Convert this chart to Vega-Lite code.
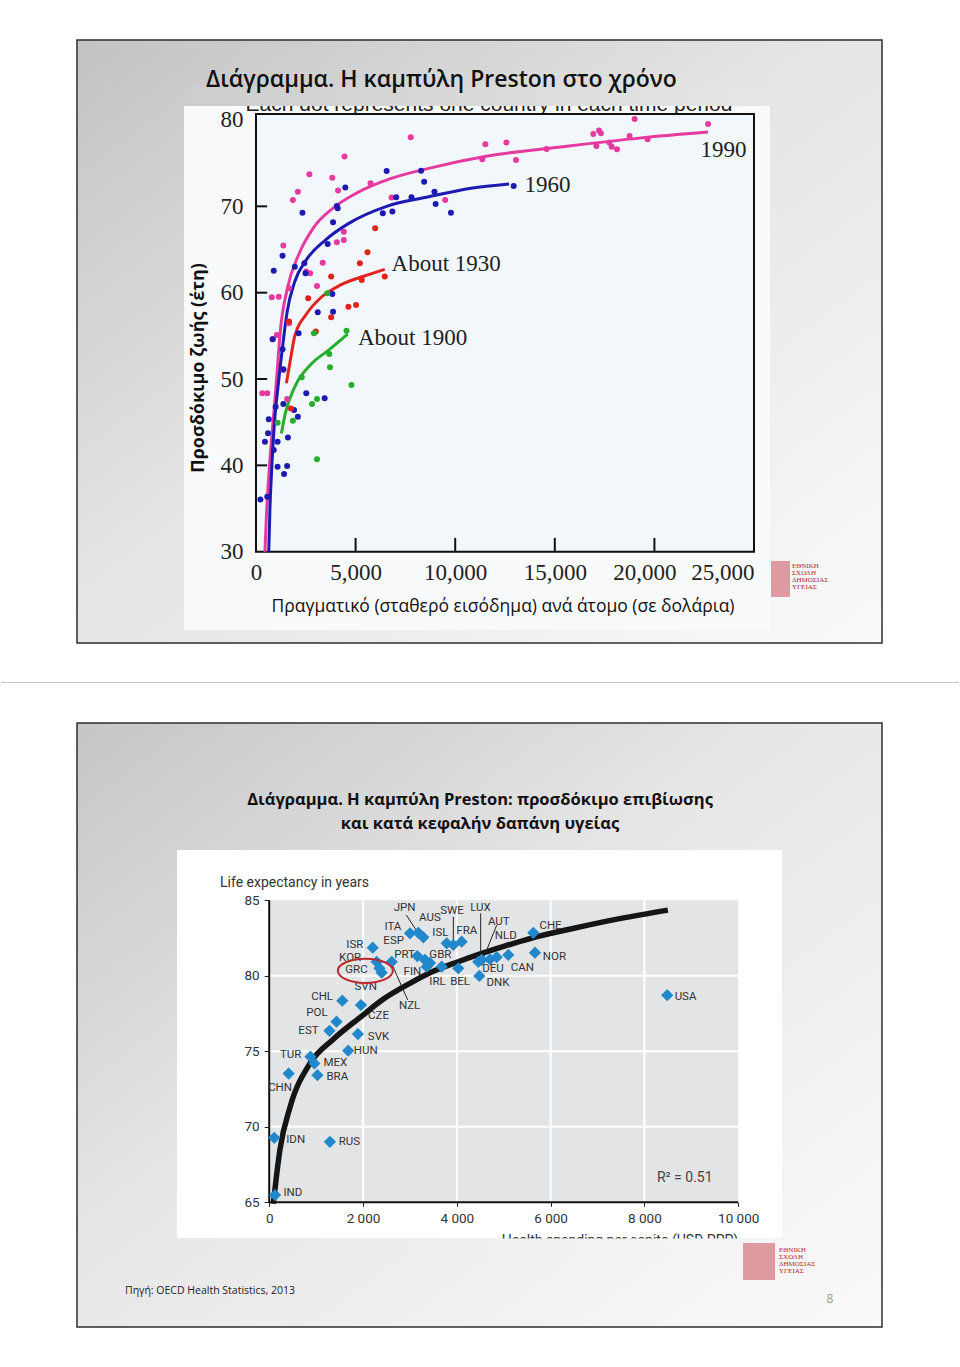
{
"$schema": "https://vega.github.io/schema/vega-lite/v6.json",
"padding": 0,
"spacing": 0,
"bounds": "flush",
"background": "white",
"config": {"view": {"stroke": null}, "concat": {"spacing": 0}},
"datasets": {
"slide1": [{"x": -8986, "x2": 31426, "y": 19.425, "y2": 89.266}],
"sep1": [{"x": -12801, "x2": 35291, "y": 14.85, "y2": 14.85}],
"pic1": [{"x": -3614, "x2": 25803, "y": 20.93, "y2": 81.62}],
"cap1": [{"t": "Each dot represents one country in each time period", "x": 11697, "y": 81.04}],
"cover1": [{"x": -3614, "x2": 25803, "y": 81.62, "y2": 83.9}],
"plot1": [{"x": 0, "x2": 25000, "y": 30, "y2": 80.7}],
"ticks1": [
{"x": 0, "x2": 560, "y": 40, "y2": 40},
{"x": 0, "x2": 560, "y": 50, "y2": 50},
{"x": 0, "x2": 560, "y": 60, "y2": 60},
{"x": 0, "x2": 560, "y": 70, "y2": 70},
{"x": 5000, "x2": 5000, "y": 30, "y2": 31.6},
{"x": 10000, "x2": 10000, "y": 30, "y2": 31.6},
{"x": 15000, "x2": 15000, "y": 30, "y2": 31.6},
{"x": 20000, "x2": 20000, "y": 30, "y2": 31.6}
],
"curves1": [
{"s": "1990", "x": 450, "y": 30}, {"s": "1990", "x": 520, "y": 34}, {"s": "1990", "x": 620, "y": 38}, {"s": "1990", "x": 760, "y": 42.5}, {"s": "1990", "x": 900, "y": 46.2}, {"s": "1990", "x": 1050, "y": 50.5}, {"s": "1990", "x": 1218, "y": 55.5}, {"s": "1990", "x": 1564, "y": 60.4}, {"s": "1990", "x": 2140, "y": 64.4}, {"s": "1990", "x": 2909, "y": 67.6}, {"s": "1990", "x": 3869, "y": 69.8}, {"s": "1990", "x": 5022, "y": 71.5}, {"s": "1990", "x": 6750, "y": 73.2}, {"s": "1990", "x": 8672, "y": 74.4}, {"s": "1990", "x": 11553, "y": 75.8}, {"s": "1990", "x": 15395, "y": 76.9}, {"s": "1990", "x": 19237, "y": 77.9}, {"s": "1990", "x": 22695, "y": 78.6},
{"s": "1960", "x": 641, "y": 30}, {"s": "1960", "x": 700, "y": 35}, {"s": "1960", "x": 795, "y": 39.9}, {"s": "1960", "x": 949, "y": 45.6}, {"s": "1960", "x": 1100, "y": 49}, {"s": "1960", "x": 1218, "y": 51.5}, {"s": "1960", "x": 1400, "y": 55}, {"s": "1960", "x": 1564, "y": 57.8}, {"s": "1960", "x": 1948, "y": 61.3}, {"s": "1960", "x": 2524, "y": 63.8}, {"s": "1960", "x": 3485, "y": 66.1}, {"s": "1960", "x": 4637, "y": 68.0}, {"s": "1960", "x": 6558, "y": 70.0}, {"s": "1960", "x": 8672, "y": 71.1}, {"s": "1960", "x": 10785, "y": 72.1}, {"s": "1960", "x": 12706, "y": 72.6},
{"s": "1930", "x": 1526, "y": 49.5}, {"s": "1930", "x": 1756, "y": 52.6}, {"s": "1930", "x": 1948, "y": 55.0}, {"s": "1930", "x": 2524, "y": 57.5}, {"s": "1930", "x": 3292, "y": 59.5}, {"s": "1930", "x": 4253, "y": 60.9}, {"s": "1930", "x": 5406, "y": 61.9}, {"s": "1930", "x": 6462, "y": 62.7},
{"s": "1900", "x": 1276, "y": 43.7}, {"s": "1900", "x": 1468, "y": 46.0}, {"s": "1900", "x": 1948, "y": 49.1}, {"s": "1900", "x": 2716, "y": 51.6}, {"s": "1900", "x": 3677, "y": 53.4}, {"s": "1900", "x": 4600, "y": 55.2}
],
"pts1": [
{"s": "1990", "x": 22695, "y": 79.54}, {"s": "1990", "x": 19006, "y": 80.12}, {"s": "1990", "x": 16932, "y": 78.38}, {"s": "1990", "x": 17220, "y": 78.77}, {"s": "1990", "x": 17316, "y": 78.46}, {"s": "1990", "x": 17086, "y": 76.99}, {"s": "1990", "x": 17738, "y": 77.38}, {"s": "1990", "x": 17853, "y": 76.91}, {"s": "1990", "x": 18122, "y": 76.61}, {"s": "1990", "x": 18756, "y": 78.15}, {"s": "1990", "x": 19659, "y": 77.76}, {"s": "1990", "x": 14588, "y": 76.64}, {"s": "1990", "x": 13051, "y": 75.37}, {"s": "1990", "x": 12571, "y": 77.38}, {"s": "1990", "x": 11515, "y": 77.19}, {"s": "1990", "x": 11361, "y": 75.45}, {"s": "1990", "x": 7768, "y": 77.99}, {"s": "1990", "x": 9498, "y": 70.74}, {"s": "1990", "x": 6808, "y": 71.01}, {"s": "1990", "x": 5752, "y": 72.67}, {"s": "1990", "x": 4445, "y": 75.76}, {"s": "1990", "x": 4119, "y": 71.82}, {"s": "1990", "x": 4407, "y": 67.07}, {"s": "1990", "x": 4407, "y": 66.1}, {"s": "1990", "x": 3831, "y": 73.32}, {"s": "1990", "x": 3350, "y": 63.48}, {"s": "1990", "x": 2678, "y": 73.71}, {"s": "1990", "x": 2101, "y": 71.7}, {"s": "1990", "x": 1851, "y": 70.74}, {"s": "1990", "x": 2524, "y": 62.44}, {"s": "1990", "x": 2716, "y": 62.24}, {"s": "1990", "x": 3062, "y": 60.78}, {"s": "1990", "x": 1372, "y": 65.45}, {"s": "1990", "x": 1660, "y": 60.51}, {"s": "1990", "x": 1141, "y": 59.54}, {"s": "1990", "x": 795, "y": 59.46}, {"s": "1990", "x": 853, "y": 54.64}, {"s": "1990", "x": 1045, "y": 55.1}, {"s": "1990", "x": 1660, "y": 56.45}, {"s": "1990", "x": 4061, "y": 65.83}, {"s": "1990", "x": 315, "y": 48.34}, {"s": "1990", "x": 565, "y": 48.34}, {"s": "1990", "x": 1564, "y": 47.68}, {"s": "1990", "x": 1372, "y": 51.04},
{"s": "1960", "x": 12936, "y": 72.36}, {"s": "1960", "x": 8287, "y": 74.13}, {"s": "1960", "x": 8441, "y": 72.86}, {"s": "1960", "x": 6558, "y": 74.1}, {"s": "1960", "x": 8960, "y": 71.7}, {"s": "1960", "x": 9018, "y": 70.27}, {"s": "1960", "x": 9786, "y": 69.27}, {"s": "1960", "x": 7807, "y": 71.05}, {"s": "1960", "x": 7038, "y": 71.05}, {"s": "1960", "x": 6366, "y": 69.19}, {"s": "1960", "x": 6846, "y": 69.39}, {"s": "1960", "x": 4484, "y": 72.17}, {"s": "1960", "x": 4061, "y": 70.04}, {"s": "1960", "x": 4100, "y": 69.77}, {"s": "1960", "x": 3869, "y": 68.15}, {"s": "1960", "x": 3600, "y": 65.64}, {"s": "1960", "x": 2332, "y": 69.27}, {"s": "1960", "x": 2428, "y": 63.4}, {"s": "1960", "x": 1948, "y": 63.01}, {"s": "1960", "x": 1333, "y": 64.29}, {"s": "1960", "x": 891, "y": 62.55}, {"s": "1960", "x": 2486, "y": 62.24}, {"s": "1960", "x": 3831, "y": 59.85}, {"s": "1960", "x": 3100, "y": 57.73}, {"s": "1960", "x": 3869, "y": 57.8}, {"s": "1960", "x": 2140, "y": 55.3}, {"s": "1960", "x": 834, "y": 54.6}, {"s": "1960", "x": 1333, "y": 53.44}, {"s": "1960", "x": 1372, "y": 51.12}, {"s": "1960", "x": 987, "y": 46.79}, {"s": "1960", "x": 1372, "y": 47.1}, {"s": "1960", "x": 641, "y": 45.33}, {"s": "1960", "x": 603, "y": 43.71}, {"s": "1960", "x": 449, "y": 42.74}, {"s": "1960", "x": 1083, "y": 42.74}, {"s": "1960", "x": 891, "y": 41.77}, {"s": "1960", "x": 1602, "y": 43.24}, {"s": "1960", "x": 1083, "y": 39.85}, {"s": "1960", "x": 1564, "y": 39.92}, {"s": "1960", "x": 1410, "y": 39.0}, {"s": "1960", "x": 219, "y": 36.06}, {"s": "1960", "x": 565, "y": 36.37}, {"s": "1960", "x": 1910, "y": 46.41}, {"s": "1960", "x": 2101, "y": 45.64}, {"s": "1960", "x": 2524, "y": 48.34}, {"s": "1960", "x": 3446, "y": 47.76},
{"s": "1930", "x": 5983, "y": 67.46}, {"s": "1930", "x": 5598, "y": 64.68}, {"s": "1930", "x": 5214, "y": 63.4}, {"s": "1930", "x": 5310, "y": 61.47}, {"s": "1930", "x": 6462, "y": 61.86}, {"s": "1930", "x": 3773, "y": 61.86}, {"s": "1930", "x": 4638, "y": 58.38}, {"s": "1930", "x": 5022, "y": 58.57}, {"s": "1930", "x": 2620, "y": 59.35}, {"s": "1930", "x": 3773, "y": 57.15}, {"s": "1930", "x": 3004, "y": 55.49}, {"s": "1930", "x": 1660, "y": 56.65}, {"s": "1930", "x": 1756, "y": 46.6},
{"s": "1900", "x": 3581, "y": 59.93}, {"s": "1900", "x": 2909, "y": 55.3}, {"s": "1900", "x": 4542, "y": 55.6}, {"s": "1900", "x": 3677, "y": 52.9}, {"s": "1900", "x": 3715, "y": 51.35}, {"s": "1900", "x": 4792, "y": 49.3}, {"s": "1900", "x": 2294, "y": 50.2}, {"s": "1900", "x": 1083, "y": 44.94}, {"s": "1900", "x": 1852, "y": 45.17}, {"s": "1900", "x": 2813, "y": 47.1}, {"s": "1900", "x": 3062, "y": 47.68}, {"s": "1900", "x": 3062, "y": 40.7}
],
"serlab1": [
{"t": "1990", "x": 22314, "y": 76.5},
{"t": "1960", "x": 13474, "y": 72.5},
{"t": "About 1930", "x": 6807, "y": 63.3},
{"t": "About 1900", "x": 5120, "y": 54.8}
],
"title1": [{"t": "Διάγραμμα. Η καμπύλη Preston στο χρόνο", "x": -2510, "y": 84.63}],
"ytitle1": [{"t": "Προσδόκιμο ζωής (έτη)", "x": -2861, "y": 51.28}],
"xtitle1": [{"t": "Πραγματικό (σταθερό εισόδημα) ανά άτομο (σε δολάρια)", "x": 12400, "y": 23.6}],
"logo1img": [{"x": 25853, "x2": 26807, "y": 24.75, "y2": 28.92}],
"logo1txt": [{"t": "ΕΘΝΙΚΗ", "x": 26908, "y": 28.34}, {"t": "ΣΧΟΛΗ", "x": 26908, "y": 27.53}, {"t": "ΔΗΜΟΣΙΑΣ", "x": 26908, "y": 26.72}, {"t": "ΥΓΕΙΑΣ", "x": 26908, "y": 25.91}],
"slide2": [{"x": -4098, "x2": 13066, "y": 56.742, "y2": 96.742}],
"pic2": [{"x": -1966, "x2": 10934, "y": 62.636, "y2": 88.33}],
"plot2": [{"x": 0, "x2": 10000, "y": 65, "y2": 85}],
"grid2": [
{"x": 2000, "x2": 2000, "y": 65, "y2": 85}, {"x": 4000, "x2": 4000, "y": 65, "y2": 85}, {"x": 6000, "x2": 6000, "y": 65, "y2": 85}, {"x": 8000, "x2": 8000, "y": 65, "y2": 85},
{"x": 0, "x2": 10000, "y": 70, "y2": 70}, {"x": 0, "x2": 10000, "y": 75, "y2": 75}, {"x": 0, "x2": 10000, "y": 80, "y2": 80}
],
"axes2": [{"x": 0, "x2": 0, "y": 65, "y2": 85}, {"x": 0, "x2": 10000, "y": 65, "y2": 65}],
"curve2": [
{"x": 88, "y": 64.9}, {"x": 150, "y": 66.6}, {"x": 230, "y": 68.5}, {"x": 444, "y": 71.3}, {"x": 870, "y": 74.2}, {"x": 1367, "y": 75.8}, {"x": 2000, "y": 77.4}, {"x": 2362, "y": 78.3}, {"x": 3000, "y": 79.5}, {"x": 3429, "y": 80.2}, {"x": 4000, "y": 80.9}, {"x": 4500, "y": 81.45}, {"x": 5000, "y": 81.95}, {"x": 5600, "y": 82.5}, {"x": 6500, "y": 83.15}, {"x": 7500, "y": 83.8}, {"x": 8500, "y": 84.35}
],
"lead2": [
{"x": 2922, "x2": 3179, "y": 84.03, "y2": 82.81},
{"x": 3926, "x2": 3926, "y": 83.91, "y2": 82.15},
{"x": 4509, "x2": 4509, "y": 84.14, "y2": 81.16},
{"x": 4851, "x2": 4580, "y": 83.36, "y2": 81.26},
{"x": 2612, "x2": 2953, "y": 80.8, "y2": 78.4}
],
"oecd": [
{"c": "IND", "x": 124, "y": 65.48}, {"c": "IDN", "x": 107, "y": 69.27}, {"c": "RUS", "x": 1294, "y": 69.01}, {"c": "CHN", "x": 414, "y": 73.53}, {"c": "TUR", "x": 879, "y": 74.64}, {"c": "MEX", "x": 962, "y": 74.2}, {"c": "BRA", "x": 1028, "y": 73.42}, {"c": "HUN", "x": 1684, "y": 75.04}, {"c": "EST", "x": 1285, "y": 76.36}, {"c": "POL", "x": 1435, "y": 76.96}, {"c": "SVK", "x": 1891, "y": 76.14}, {"c": "CHL", "x": 1559, "y": 78.35}, {"c": "CZE", "x": 1957, "y": 78.06}, {"c": "ISR", "x": 2207, "y": 81.86}, {"c": "KOR", "x": 2292, "y": 80.93}, {"c": "GRC", "x": 2399, "y": 80.21}, {"c": "SVN", "x": 2350, "y": 80.5}, {"c": "NZL", "x": 2612, "y": 80.93}, {"c": "ITA", "x": 3002, "y": 82.81}, {"c": "JPN", "x": 3179, "y": 82.85}, {"c": "AUS", "x": 3286, "y": 82.55}, {"c": "ESP", "x": 3158, "y": 81.31}, {"c": "PRT", "x": 3322, "y": 81.05}, {"c": "GBR", "x": 3428, "y": 80.85}, {"c": "FIN", "x": 3358, "y": 80.6}, {"c": "IRL", "x": 3678, "y": 80.6}, {"c": "BEL", "x": 4032, "y": 80.5}, {"c": "SWE", "x": 3785, "y": 82.15}, {"c": "ISL", "x": 3925, "y": 82.04}, {"c": "FRA", "x": 4104, "y": 82.26}, {"c": "DNK", "x": 4480, "y": 79.99}, {"c": "DEU", "x": 4458, "y": 80.93}, {"c": "LUX", "x": 4531, "y": 81.05}, {"c": "AUT", "x": 4708, "y": 81.09}, {"c": "NLD", "x": 4851, "y": 81.23}, {"c": "CAN", "x": 5098, "y": 81.38}, {"c": "CHE", "x": 5631, "y": 82.85}, {"c": "NOR", "x": 5667, "y": 81.53}, {"c": "USA", "x": 8487, "y": 78.72}
],
"oecdlab": [
{"t": "IND", "x": 506, "y": 65.59}, {"t": "IDN", "x": 564, "y": 69.12}, {"t": "RUS", "x": 1709, "y": 69.01}, {"t": "CHN", "x": 232, "y": 72.59}, {"t": "TUR", "x": 456, "y": 74.75}, {"t": "MEX", "x": 1410, "y": 74.2}, {"t": "BRA", "x": 1451, "y": 73.27}, {"t": "HUN", "x": 2057, "y": 75.04}, {"t": "EST", "x": 837, "y": 76.36}, {"t": "POL", "x": 1020, "y": 77.51}, {"t": "SVK", "x": 2331, "y": 75.96}, {"t": "CHL", "x": 1128, "y": 78.57}, {"t": "CZE", "x": 2331, "y": 77.36}, {"t": "ISR", "x": 1825, "y": 82.05}, {"t": "KOR", "x": 1725, "y": 81.15}, {"t": "GRC", "x": 1860, "y": 80.38}, {"t": "SVN", "x": 2057, "y": 79.28}, {"t": "NZL", "x": 2994, "y": 77.99}, {"t": "ITA", "x": 2638, "y": 83.25}, {"t": "JPN", "x": 2887, "y": 84.46}, {"t": "AUS", "x": 3426, "y": 83.8}, {"t": "ESP", "x": 2654, "y": 82.3}, {"t": "PRT", "x": 2887, "y": 81.4}, {"t": "GBR", "x": 3650, "y": 81.37}, {"t": "FIN", "x": 3053, "y": 80.27}, {"t": "IRL", "x": 3590, "y": 79.61}, {"t": "BEL", "x": 4070, "y": 79.61}, {"t": "SWE", "x": 3899, "y": 84.31}, {"t": "ISL", "x": 3650, "y": 82.85}, {"t": "FRA", "x": 4214, "y": 82.96}, {"t": "DNK", "x": 4878, "y": 79.52}, {"t": "DEU", "x": 4770, "y": 80.42}, {"t": "LUX", "x": 4505, "y": 84.51}, {"t": "AUT", "x": 4895, "y": 83.58}, {"t": "NLD", "x": 5044, "y": 82.63}, {"t": "CAN", "x": 5400, "y": 80.53}, {"t": "CHE", "x": 5998, "y": 83.29}, {"t": "NOR", "x": 6081, "y": 81.26}, {"t": "USA", "x": 8877, "y": 78.61}
],
"ell2": [{"x": 2050, "y": 80.33}],
"title2": [{"t": "Διάγραμμα. Η καμπύλη Preston: προσδόκιμο επιβίωσης", "x": 4495, "y": 91.64}, {"t": "και κατά κεφαλήν δαπάνη υγείας", "x": 4495, "y": 90.05}],
"ylab2": [{"t": "Life expectancy in years", "x": -1049, "y": 86.15}],
"r2": [{"t": "R² = 0.51", "x": 8860, "y": 66.58}],
"xlab2": [{"t": "Health spending per capita (USD PPP)", "x": 10000, "y": 62.45}],
"cover2": [{"x": 3000, "x2": 10200, "y": 61.7, "y2": 62.6}],
"foot2": [{"t": "Πηγή: OECD Health Statistics, 2013", "x": -3075, "y": 59.126}],
"page2": [{"t": "8", "x": 11957, "y": 58.6}],
"logo2img": [{"x": 10102, "x2": 10785, "y": 59.854, "y2": 62.305}],
"logo2txt": [{"t": "ΕΘΝΙΚΗ", "x": 10870, "y": 61.84}, {"t": "ΣΧΟΛΗ", "x": 10870, "y": 61.37}, {"t": "ΔΗΜΟΣΙΑΣ", "x": 10870, "y": 60.91}, {"t": "ΥΓΕΙΑΣ", "x": 10870, "y": 60.45}]
},
"vconcat": [
{
"width": 960,
"height": 683,
"encoding": {
"x": {"field": "x", "type": "quantitative", "scale": {"domain": [-12851.4, 35341.4], "nice": false, "zero": false},
"axis": {"orient": "bottom", "offset": -131.3, "zindex": 1, "values": [0, 5000, 10000, 15000, 20000, 25000], "format": ",d", "domain": false, "ticks": false, "grid": false, "labelPadding": 10, "labelFont": "Liberation Serif", "labelFontSize": 23, "labelColor": "#222", "title": null, "labelOverlap": false, "labelFlush": false,
"labelAlign": {"condition": {"test": "datum.value == 25000", "value": "right"}, "value": "center"},
"labelOffset": {"condition": {"test": "datum.value == 20000", "value": -10}, "value": 0}}},
"y": {"field": "y", "type": "quantitative", "scale": {"domain": [14.793, 93.898], "nice": false, "zero": false},
"axis": {"orient": "left", "offset": -256, "zindex": 1, "values": [30, 40, 50, 60, 70, 80], "domain": false, "ticks": false, "grid": false, "labelPadding": 13, "labelFont": "Liberation Serif", "labelFontSize": 23, "labelColor": "#222", "title": null, "labelOverlap": false, "labelFlush": false}}
},
"layer": [
{"data": {"name": "slide1"}, "mark": {"type": "rect", "fill": {"gradient": "linear", "x1": 0, "y1": 0, "x2": 1, "y2": 1, "stops": [{"offset": 0, "color": "#c3c3c3"}, {"offset": 0.45, "color": "#e4e4e4"}, {"offset": 1, "color": "#fafafa"}]}, "stroke": "#2e2e2e", "strokeWidth": 1.5}, "encoding": {"x2": {"field": "x2"}, "y2": {"field": "y2"}}},
{"data": {"name": "sep1"}, "mark": {"type": "rule", "color": "#c4c4c4", "strokeWidth": 1}, "encoding": {"x2": {"field": "x2"}, "y2": {"field": "y2"}}},
{"data": {"name": "pic1"}, "mark": {"type": "rect", "fill": "#f8fafb"}, "encoding": {"x2": {"field": "x2"}, "y2": {"field": "y2"}}},
{"data": {"name": "cap1"}, "mark": {"type": "text", "font": "Liberation Sans", "fontSize": 21, "color": "#222", "align": "center", "baseline": "alphabetic"}, "encoding": {"text": {"field": "t"}}},
{"data": {"name": "cover1"}, "mark": {"type": "rect", "fill": {"gradient": "linear", "x1": 0, "y1": 0, "x2": 1, "y2": 0, "stops": [{"offset": 0, "color": "#cdcdcd"}, {"offset": 1, "color": "#e6e6e6"}]}}, "encoding": {"x2": {"field": "x2"}, "y2": {"field": "y2"}}},
{"data": {"name": "plot1"}, "mark": {"type": "rect", "fill": "#f1f7fa", "stroke": "#111", "strokeWidth": 2}, "encoding": {"x2": {"field": "x2"}, "y2": {"field": "y2"}}},
{"data": {"name": "ticks1"}, "mark": {"type": "rule", "color": "#111", "strokeWidth": 2}, "encoding": {"x2": {"field": "x2"}, "y2": {"field": "y2"}}},
{"data": {"name": "curves1"}, "mark": {"type": "line", "strokeWidth": 3, "interpolate": "monotone"}, "encoding": {"color": {"field": "s", "type": "nominal", "scale": {"domain": ["1990", "1960", "1930", "1900"], "range": ["#e63aa0", "#1c1ab0", "#e3231b", "#25ad2c"]}, "legend": null}}},
{"data": {"name": "pts1"}, "mark": {"type": "circle", "size": 36, "opacity": 1}, "encoding": {"color": {"field": "s", "type": "nominal", "legend": null}}},
{"data": {"name": "serlab1"}, "mark": {"type": "text", "font": "Liberation Serif", "fontSize": 23, "color": "#222", "align": "left", "baseline": "middle"}, "encoding": {"text": {"field": "t"}}},
{"data": {"name": "title1"}, "mark": {"type": "text", "font": "Open Sans", "fontSize": 23, "fontWeight": 600, "color": "#111", "align": "left", "baseline": "middle"}, "encoding": {"text": {"field": "t"}}},
{"data": {"name": "ytitle1"}, "mark": {"type": "text", "font": "Open Sans", "fontSize": 18, "fontWeight": "bold", "color": "#111", "align": "center", "baseline": "middle", "angle": 270}, "encoding": {"text": {"field": "t"}}},
{"data": {"name": "xtitle1"}, "mark": {"type": "text", "font": "Open Sans", "fontSize": 17.5, "color": "#111", "align": "center", "baseline": "middle"}, "encoding": {"text": {"field": "t"}}},
{"data": {"name": "logo1img"}, "mark": {"type": "rect", "fill": "#d98a90", "opacity": 0.85}, "encoding": {"x2": {"field": "x2"}, "y2": {"field": "y2"}}},
{"data": {"name": "logo1txt"}, "mark": {"type": "text", "font": "Liberation Serif", "fontSize": 7, "color": "#b3262e", "align": "left", "baseline": "middle"}, "encoding": {"text": {"field": "t"}}}
]
},
{
"width": 960,
"height": 684,
"encoding": {
"x": {"field": "x", "type": "quantitative", "scale": {"domain": [-5739.9, 14729.2], "nice": false, "zero": false},
"axis": {"orient": "bottom", "offset": -164.7, "zindex": 1, "values": [0, 2000, 4000, 6000, 8000, 10000], "labelExpr": "replace(format(datum.value, ',d'), ',', ' ')", "domain": false, "ticks": true, "tickSize": 4, "tickColor": "#222", "grid": false, "labelPadding": 5, "labelFont": "Roboto", "labelFontSize": 13.5, "labelColor": "#333", "title": null, "labelOverlap": false, "labelFlush": false}},
"y": {"field": "y", "type": "quantitative", "scale": {"domain": [54.093, 99.391], "nice": false, "zero": false},
"axis": {"orient": "left", "offset": -269.2, "zindex": 1, "values": [65, 70, 75, 80, 85], "domain": false, "ticks": true, "tickSize": 5, "tickColor": "#222", "grid": false, "labelPadding": 5, "labelFont": "Roboto", "labelFontSize": 13.5, "labelColor": "#333", "title": null, "labelOverlap": false, "labelFlush": false}}
},
"layer": [
{"data": {"name": "slide2"}, "mark": {"type": "rect", "fill": {"gradient": "linear", "x1": 0, "y1": 0, "x2": 1, "y2": 1, "stops": [{"offset": 0, "color": "#c6c6c6"}, {"offset": 0.45, "color": "#e7e7e7"}, {"offset": 1, "color": "#fafafa"}]}, "stroke": "#2e2e2e", "strokeWidth": 1.5}, "encoding": {"x2": {"field": "x2"}, "y2": {"field": "y2"}}},
{"data": {"name": "pic2"}, "mark": {"type": "rect", "fill": "#ffffff"}, "encoding": {"x2": {"field": "x2"}, "y2": {"field": "y2"}}},
{"data": {"name": "plot2"}, "mark": {"type": "rect", "fill": "#e3e4e6"}, "encoding": {"x2": {"field": "x2"}, "y2": {"field": "y2"}}},
{"data": {"name": "grid2"}, "mark": {"type": "rule", "color": "#ffffff", "strokeWidth": 2}, "encoding": {"x2": {"field": "x2"}, "y2": {"field": "y2"}}},
{"data": {"name": "curve2"}, "mark": {"type": "line", "color": "#151515", "strokeWidth": 5.5, "interpolate": "monotone"}, "encoding": {}},
{"data": {"name": "axes2"}, "mark": {"type": "rule", "color": "#111", "strokeWidth": 2}, "encoding": {"x2": {"field": "x2"}, "y2": {"field": "y2"}}},
{"data": {"name": "lead2"}, "mark": {"type": "rule", "color": "#222", "strokeWidth": 1}, "encoding": {"x2": {"field": "x2"}, "y2": {"field": "y2"}}},
{"data": {"name": "oecd"}, "mark": {"type": "point", "shape": "diamond", "filled": true, "size": 150, "color": "#2188cc", "opacity": 1}, "encoding": {"tooltip": {"field": "c"}}},
{"data": {"name": "oecdlab"}, "mark": {"type": "text", "font": "Roboto", "fontSize": 11.5, "color": "#333", "align": "center", "baseline": "middle"}, "encoding": {"text": {"field": "t"}}},
{"data": {"name": "ell2"}, "mark": {"type": "point", "shape": "M-1,0 A1,0.44 0 1,1 1,0 A1,0.44 0 1,1 -1,0 Z", "size": 3025, "filled": false, "stroke": "#c0272d", "strokeWidth": 2, "opacity": 1}, "encoding": {}},
{"data": {"name": "title2"}, "mark": {"type": "text", "font": "Open Sans", "fontSize": 16.5, "fontWeight": "bold", "color": "#111", "align": "center", "baseline": "middle"}, "encoding": {"text": {"field": "t"}}},
{"data": {"name": "ylab2"}, "mark": {"type": "text", "font": "Roboto", "fontSize": 14, "color": "#333", "align": "left", "baseline": "middle"}, "encoding": {"text": {"field": "t"}}},
{"data": {"name": "r2"}, "mark": {"type": "text", "font": "Roboto", "fontSize": 14, "color": "#444", "align": "center", "baseline": "middle"}, "encoding": {"text": {"field": "t"}}},
{"data": {"name": "xlab2"}, "mark": {"type": "text", "font": "Roboto", "fontSize": 14, "color": "#333", "align": "right", "baseline": "middle"}, "encoding": {"text": {"field": "t"}}},
{"data": {"name": "cover2"}, "mark": {"type": "rect", "fill": {"gradient": "linear", "x1": 0, "y1": 0, "x2": 1, "y2": 0, "stops": [{"offset": 0, "color": "#eeeeee"}, {"offset": 1, "color": "#f5f5f5"}]}}, "encoding": {"x2": {"field": "x2"}, "y2": {"field": "y2"}}},
{"data": {"name": "foot2"}, "mark": {"type": "text", "font": "Open Sans", "fontSize": 10.5, "color": "#222", "align": "left", "baseline": "middle"}, "encoding": {"text": {"field": "t"}}},
{"data": {"name": "page2"}, "mark": {"type": "text", "font": "Open Sans", "fontSize": 12, "color": "#999", "align": "center", "baseline": "middle"}, "encoding": {"text": {"field": "t"}}},
{"data": {"name": "logo2img"}, "mark": {"type": "rect", "fill": "#d98a90", "opacity": 0.85}, "encoding": {"x2": {"field": "x2"}, "y2": {"field": "y2"}}},
{"data": {"name": "logo2txt"}, "mark": {"type": "text", "font": "Liberation Serif", "fontSize": 7, "color": "#b3262e", "align": "left", "baseline": "middle"}, "encoding": {"text": {"field": "t"}}}
]
}
]
}
